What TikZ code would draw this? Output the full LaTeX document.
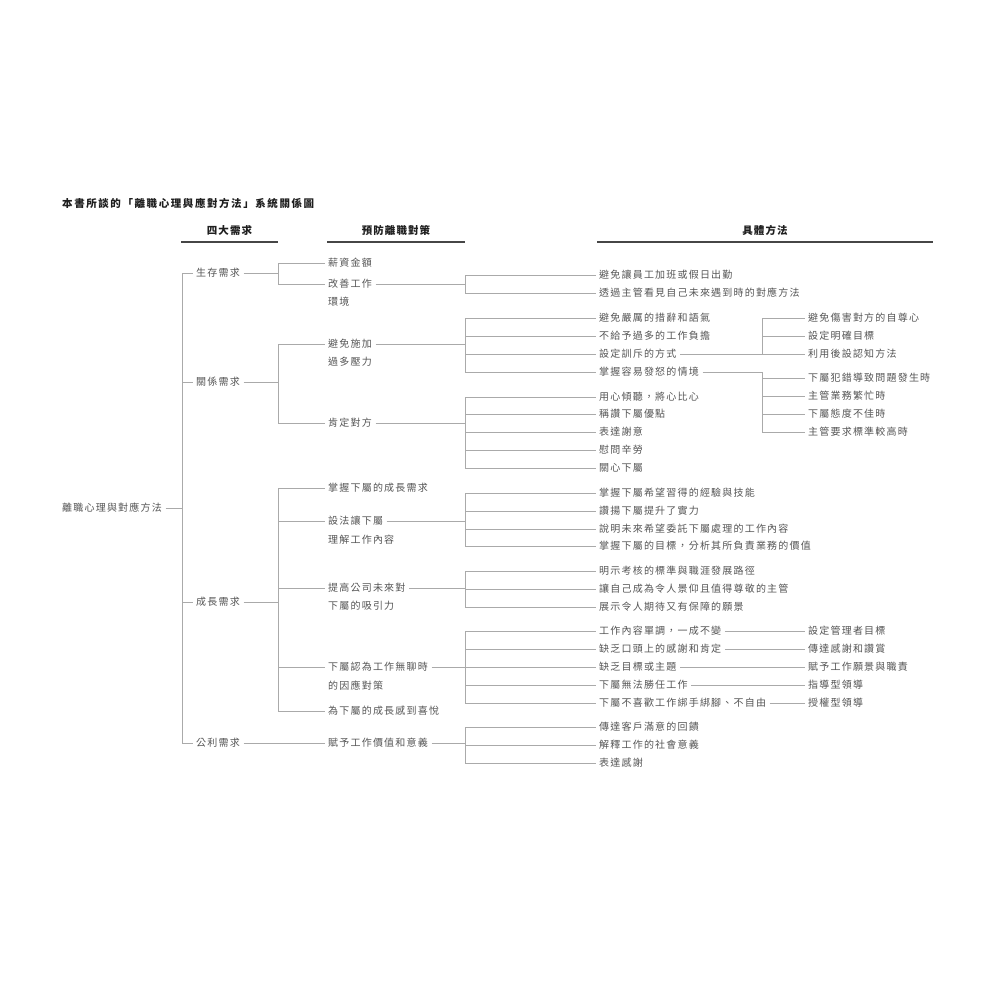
\documentclass[tikz,border=0pt]{standalone}
\usepackage{fontspec}
\setmainfont{Noto Sans CJK TC}
\newfontfamily\bodyfont{Noto Sans CJK TC}[LetterSpace=12]
\newfontfamily\hdfont{Noto Sans CJK TC}[LetterSpace=10]
\newfontfamily\ttlfont{Noto Sans CJK TC}[LetterSpace=15]
\definecolor{txt}{RGB}{85,85,85}
\definecolor{lnc}{RGB}{170,170,170}
\definecolor{hd}{RGB}{30,30,30}
\definecolor{hdl}{RGB}{70,70,70}
\tikzset{
  t/.style={anchor=west, inner xsep=3.5pt, inner ysep=0pt, text height=7.6pt, text depth=0pt,
    font=\bodyfont\fontsize{10}{12}\selectfont, text=txt},
  hdr/.style={inner sep=0pt, text height=8pt, text depth=0pt,
    font=\hdfont\bfseries\fontsize{10.5}{12}\selectfont, text=hd},
  ttl/.style={inner sep=0pt, text height=8pt, text depth=0pt, anchor=west,
    font=\ttlfont\bfseries\fontsize{10.5}{12}\selectfont, text=hd},
  ln/.style={draw=lnc, line width=0.8pt},
  ul/.style={draw=hdl, line width=1.1pt}
}
\begin{document}
\begin{tikzpicture}[x=1pt,y=-1pt]
\useasboundingbox (0,0) rectangle (1000,1000);
\fill[white] (0,0) rectangle (1000,1000);

% title and headers
\node[ttl] (title) at (62,204) {本書所談的「離職心理與應對方法」系統關係圖};
\node[hdr] (h1) at (229.5,231) {四大需求};
\node[hdr] (h2) at (396,231) {預防離職對策};
\node[hdr] (h3) at (765,231) {具體方法};
\draw[ul] (181,242) -- (278,242);
\draw[ul] (327,242) -- (465,242);
\draw[ul] (597,242) -- (933,242);

\coordinate (a) at (182,0);
\coordinate (b) at (278,0);
\coordinate (c) at (465,0);
\coordinate (d) at (762,0);

% root and level 1
\node[t] (root) at (58.5,508) {離職心理與對應方法};
\node[t] (L1a) at (192.5,273) {生存需求};
\node[t] (L1b) at (192.5,382) {關係需求};
\node[t] (L1c) at (192.5,602) {成長需求};
\node[t] (L1d) at (192.5,743) {公利需求};

% level 2
\node[t] (s1) at (324.5,263) {薪資金額};
\node[t] (s2) at (324.5,284) {改善工作};
\node[t] (s2x) at (324.5,302) {環境};
\node[t] (r1) at (324.5,344) {避免施加};
\node[t] (r1x) at (324.5,362) {過多壓力};
\node[t] (r2) at (324.5,423) {肯定對方};
\node[t] (g1) at (324.5,488) {掌握下屬的成長需求};
\node[t] (g2) at (324.5,521) {設法讓下屬};
\node[t] (g2x) at (324.5,540) {理解工作內容};
\node[t] (g3) at (324.5,588) {提高公司未來對};
\node[t] (g3x) at (324.5,606) {下屬的吸引力};
\node[t] (g4) at (324.5,667) {下屬認為工作無聊時};
\node[t] (g4x) at (324.5,686) {的因應對策};
\node[t] (g5) at (324.5,711) {為下屬的成長感到喜悅};
\node[t] (p1) at (324.5,743) {賦予工作價值和意義};

% level 3
\node[t] (m1) at (595.5,275) {避免讓員工加班或假日出勤};
\node[t] (m2) at (595.5,293) {透過主管看見自己未來遇到時的對應方法};
\node[t] (n1) at (595.5,318) {避免嚴厲的措辭和語氣};
\node[t] (n2) at (595.5,336) {不給予過多的工作負擔};
\node[t] (n3) at (595.5,354) {設定訓斥的方式};
\node[t] (n4) at (595.5,372) {掌握容易發怒的情境};
\node[t] (o1) at (595.5,397) {用心傾聽，將心比心};
\node[t] (o2) at (595.5,414) {稱讚下屬優點};
\node[t] (o3) at (595.5,432) {表達謝意};
\node[t] (o4) at (595.5,450) {慰問辛勞};
\node[t] (o5) at (595.5,468) {關心下屬};
\node[t] (q1) at (595.5,493) {掌握下屬希望習得的經驗與技能};
\node[t] (q2) at (595.5,511) {讚揚下屬提升了實力};
\node[t] (q3) at (595.5,529) {說明未來希望委託下屬處理的工作內容};
\node[t] (q4) at (595.5,546) {掌握下屬的目標，分析其所負責業務的價值};
\node[t] (u1) at (595.5,571) {明示考核的標準與職涯發展路徑};
\node[t] (u2) at (595.5,589) {讓自己成為令人景仰且值得尊敬的主管};
\node[t] (u3) at (595.5,607) {展示令人期待又有保障的願景};
\node[t] (v1) at (595.5,631) {工作內容單調，一成不變};
\node[t] (v2) at (595.5,649) {缺乏口頭上的感謝和肯定};
\node[t] (v3) at (595.5,667) {缺乏目標或主題};
\node[t] (v4) at (595.5,685) {下屬無法勝任工作};
\node[t] (v5) at (595.5,703) {下屬不喜歡工作綁手綁腳、不自由};
\node[t] (w1) at (595.5,727) {傳達客戶滿意的回饋};
\node[t] (w2) at (595.5,745) {解釋工作的社會意義};
\node[t] (w3) at (595.5,763) {表達感謝};

% level 4
\node[t] (x1) at (804.5,318) {避免傷害對方的自尊心};
\node[t] (x2) at (804.5,336) {設定明確目標};
\node[t] (x3) at (804.5,354) {利用後設認知方法};
\node[t] (y1) at (804.5,378) {下屬犯錯導致問題發生時};
\node[t] (y2) at (804.5,396) {主管業務繁忙時};
\node[t] (y3) at (804.5,414) {下屬態度不佳時};
\node[t] (y4) at (804.5,432) {主管要求標準較高時};
\node[t] (z1) at (804.5,631) {設定管理者目標};
\node[t] (z2) at (804.5,649) {傳達感謝和讚賞};
\node[t] (z3) at (804.5,667) {賦予工作願景與職責};
\node[t] (z4) at (804.5,685) {指導型領導};
\node[t] (z5) at (804.5,703) {授權型領導};

% connectors: level 1
\draw[ln] (root.east) -- (root.east -| a);
\draw[ln] (L1a.west) -- (L1a.west -| a) -- (L1d.west -| a) -- (L1d.west);
\draw[ln] (L1b.west -| a) -- (L1b.west);
\draw[ln] (L1c.west -| a) -- (L1c.west);

% level 1 -> level 2
\draw[ln] (L1a.east) -- (L1a.east -| b);
\draw[ln] (s1.west) -- (s1.west -| b) -- (s2.west -| b) -- (s2.west);
\draw[ln] (L1b.east) -- (L1b.east -| b);
\draw[ln] (r1.west) -- (r1.west -| b) -- (r2.west -| b) -- (r2.west);
\draw[ln] (L1c.east) -- (L1c.east -| b);
\draw[ln] (g1.west) -- (g1.west -| b) -- (g5.west -| b) -- (g5.west);
\draw[ln] (g2.west -| b) -- (g2.west);
\draw[ln] (g3.west -| b) -- (g3.west);
\draw[ln] (g4.west -| b) -- (g4.west);
\draw[ln] (L1d.east) -- (p1.west);

% level 2 -> level 3
\draw[ln] (s2.east) -- (s2.east -| c);
\draw[ln] (m1.west) -- (m1.west -| c) -- (m2.west -| c) -- (m2.west);

\draw[ln] (r1.east) -- (r1.east -| c);
\draw[ln] (n1.west) -- (n1.west -| c) -- (n4.west -| c) -- (n4.west);
\draw[ln] (n2.west -| c) -- (n2.west);
\draw[ln] (n3.west -| c) -- (n3.west);

\draw[ln] (r2.east) -- (r2.east -| c);
\draw[ln] (o1.west) -- (o1.west -| c) -- (o5.west -| c) -- (o5.west);
\draw[ln] (o2.west -| c) -- (o2.west);
\draw[ln] (o3.west -| c) -- (o3.west);
\draw[ln] (o4.west -| c) -- (o4.west);

\draw[ln] (g2.east) -- (g2.east -| c);
\draw[ln] (q1.west) -- (q1.west -| c) -- (q4.west -| c) -- (q4.west);
\draw[ln] (q2.west -| c) -- (q2.west);
\draw[ln] (q3.west -| c) -- (q3.west);

\draw[ln] (g3.east) -- (g3.east -| c);
\draw[ln] (u1.west) -- (u1.west -| c) -- (u3.west -| c) -- (u3.west);
\draw[ln] (u2.west -| c) -- (u2.west);

\draw[ln] (g4.east) -- (g4.east -| c);
\draw[ln] (v1.west) -- (v1.west -| c) -- (v5.west -| c) -- (v5.west);
\draw[ln] (v2.west -| c) -- (v2.west);
\draw[ln] (v3.west -| c) -- (v3.west);
\draw[ln] (v4.west -| c) -- (v4.west);

\draw[ln] (p1.east) -- (p1.east -| c);
\draw[ln] (w1.west) -- (w1.west -| c) -- (w3.west -| c) -- (w3.west);
\draw[ln] (w2.west -| c) -- (w2.west);

% level 3 -> level 4
\draw[ln] (n3.east) -- (n3.east -| d);
\draw[ln] (x1.west) -- (x1.west -| d) -- (x3.west -| d) -- (x3.west);
\draw[ln] (x2.west -| d) -- (x2.west);

\draw[ln] (n4.east) -- (n4.east -| d) -- (y4.west -| d) -- (y4.west);
\draw[ln] (y1.west -| d) -- (y1.west);
\draw[ln] (y2.west -| d) -- (y2.west);
\draw[ln] (y3.west -| d) -- (y3.west);

\draw[ln] (v1.east) -- (z1.west);
\draw[ln] (v2.east) -- (z2.west);
\draw[ln] (v3.east) -- (z3.west);
\draw[ln] (v4.east) -- (z4.west);
\draw[ln] (v5.east) -- (z5.west);
\end{tikzpicture}
\end{document}
